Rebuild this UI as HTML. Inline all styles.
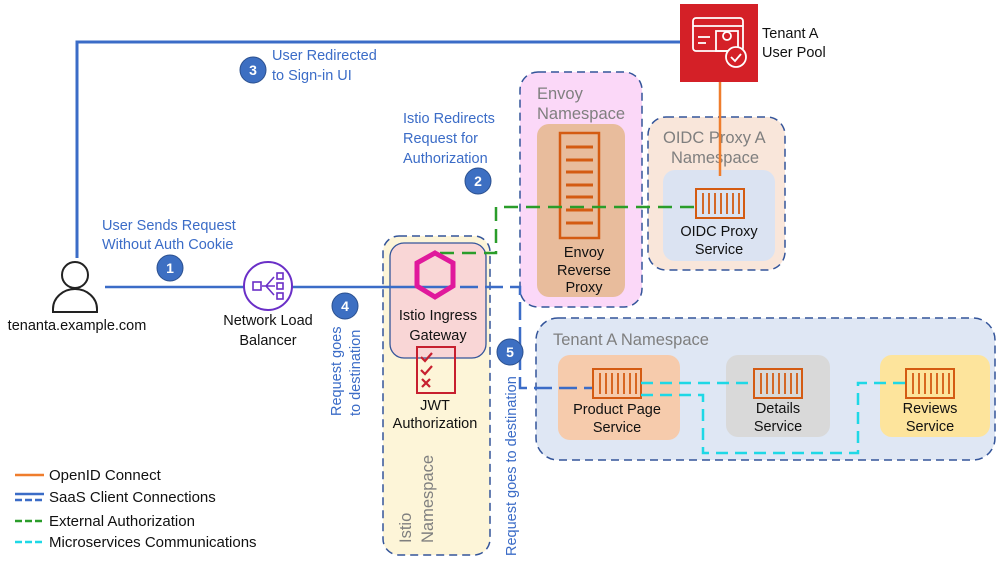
<!DOCTYPE html>
<html><head><meta charset="utf-8"><style>
html,body{margin:0;padding:0;background:#fff;}
svg{display:block;font-family:"Liberation Sans",sans-serif;}
.b{fill:#3b6cc7;font-size:14.5px;}
.k{fill:#111;font-size:14.5px;}
.g{fill:#7f7f7f;font-size:16.5px;}
</style></head><body>
<svg width="997" height="565" viewBox="0 0 997 565" xmlns="http://www.w3.org/2000/svg">
<!-- namespaces -->
<rect x="383" y="236" width="107" height="319" rx="16" fill="#fdf5d8" stroke="#34559a" stroke-width="1.5" stroke-dasharray="8,5"/>
<rect x="520" y="72" width="122" height="235" rx="18" fill="#fbd8f8" stroke="#34559a" stroke-width="1.5" stroke-dasharray="8,5"/>
<rect x="648" y="117" width="137" height="153" rx="18" fill="#f9e6da" stroke="#34559a" stroke-width="1.5" stroke-dasharray="8,5"/>
<rect x="536" y="318" width="459" height="142" rx="22" fill="#dfe7f4" stroke="#34559a" stroke-width="1.5" stroke-dasharray="8,5"/>
<text class="g" x="537" y="99">Envoy</text><text class="g" x="537" y="119">Namespace</text>
<text class="g" x="663" y="143">OIDC Proxy A</text><text class="g" x="671" y="163">Namespace</text>
<text class="g" x="553" y="345">Tenant A Namespace</text>
<text class="g" transform="translate(411,543) rotate(-90)">Istio</text>
<text class="g" transform="translate(433,543) rotate(-90)">Namespace</text>
<!-- inner boxes -->
<rect x="537" y="124" width="88" height="173" rx="12" fill="#e8bc9c"/>
<rect x="663" y="170" width="112" height="91" rx="12" fill="#dbe3f2"/>
<rect x="558" y="355" width="122" height="85" rx="12" fill="#f6cbac"/>
<rect x="726" y="355" width="104" height="82" rx="12" fill="#d9d9d9"/>
<rect x="880" y="355" width="110" height="82" rx="12" fill="#fde49c"/>
<rect x="390" y="243" width="96" height="115" rx="14" fill="#f9d6d6" stroke="#34559a" stroke-width="1.3"/>
<!-- envoy icon -->
<rect x="560" y="133" width="39" height="105" fill="none" stroke="#d45b12" stroke-width="2.5"/>
<g stroke="#d45b12" stroke-width="3"><line x1="566" y1="147" x2="593" y2="147"/><line x1="566" y1="160" x2="593" y2="160"/><line x1="566" y1="172" x2="593" y2="172"/><line x1="566" y1="185" x2="593" y2="185"/><line x1="566" y1="197" x2="593" y2="197"/><line x1="566" y1="210" x2="593" y2="210"/><line x1="566" y1="223" x2="593" y2="223"/></g>
<text class="k" x="584" y="257" text-anchor="middle">Envoy</text><text class="k" x="584" y="275" text-anchor="middle">Reverse</text><text class="k" x="584" y="292" text-anchor="middle">Proxy</text>
<!-- container icons -->
<g fill="none" stroke="#d45b12" stroke-width="2">
<rect x="696" y="189" width="48" height="29"/><rect x="593" y="369" width="48" height="29"/><rect x="754" y="369" width="48" height="29"/><rect x="906" y="369" width="48" height="29"/>
</g>
<g stroke="#d45b12" stroke-width="1.8">
<path d="M703 193v21M709 193v21M715 193v21M721 193v21M727 193v21M733 193v21M739 193v21"/>
<path d="M600 373v21M606 373v21M612 373v21M618 373v21M624 373v21M630 373v21M636 373v21"/>
<path d="M761 373v21M767 373v21M773 373v21M779 373v21M785 373v21M791 373v21M797 373v21"/>
<path d="M913 373v21M919 373v21M925 373v21M931 373v21M937 373v21M943 373v21M949 373v21"/>
</g>
<text class="k" x="719" y="236" text-anchor="middle">OIDC Proxy</text><text class="k" x="719" y="254" text-anchor="middle">Service</text>
<text class="k" x="617" y="414" text-anchor="middle">Product Page</text><text class="k" x="617" y="432" text-anchor="middle">Service</text>
<text class="k" x="778" y="413" text-anchor="middle">Details</text><text class="k" x="778" y="431" text-anchor="middle">Service</text>
<text class="k" x="930" y="413" text-anchor="middle">Reviews</text><text class="k" x="930" y="431" text-anchor="middle">Service</text>
<!-- connectors -->
<line x1="720" y1="82" x2="720" y2="176" stroke="#ef7d2d" stroke-width="2.5"/>
<polyline points="77,258 77,42 680,42" fill="none" stroke="#3b6cc7" stroke-width="3"/>
<line x1="105" y1="287" x2="244" y2="287" stroke="#3b6cc7" stroke-width="2.5"/>
<line x1="292" y1="287" x2="435" y2="287" stroke="#3b6cc7" stroke-width="2.5"/>
<polyline points="435,287 520,287 520,388 592,388" fill="none" stroke="#3b6cc7" stroke-width="2.5" stroke-dasharray="18,7"/>
<polyline points="440,253 496,253 496,207 696,207" fill="none" stroke="#2a9d2a" stroke-width="2.5" stroke-dasharray="14,8"/>
<polyline points="641,383 754,383" fill="none" stroke="#1ed8e6" stroke-width="2.5" stroke-dasharray="12,7"/>
<polyline points="641,395 703,395 703,453 858,453 858,383 906,383" fill="none" stroke="#1ed8e6" stroke-width="2.5" stroke-dasharray="12,7"/>
<!-- gateway -->
<polygon points="435,253 453,263 453,286 435,297 417,286 417,263" fill="none" stroke="#e0199c" stroke-width="5"/>
<text class="k" x="438" y="320" text-anchor="middle">Istio Ingress</text><text class="k" x="438" y="340" text-anchor="middle">Gateway</text>
<rect x="417" y="347" width="38" height="46" fill="none" stroke="#c7202f" stroke-width="2"/>
<g stroke="#c7202f" stroke-width="2.2" fill="none"><path d="M421 357l4 4 7-8M421 370l4 4 7-8M422 379l8 8M430 379l-8 8"/></g>
<text class="k" x="435" y="410" text-anchor="middle">JWT</text><text class="k" x="435" y="428" text-anchor="middle">Authorization</text>
<!-- cognito -->
<rect x="680" y="4" width="78" height="78" fill="#d42027"/>
<g stroke="#fff" stroke-width="1.8" fill="none"><rect x="693" y="18" width="50" height="33" rx="3"/><line x1="693" y1="26" x2="743" y2="26"/><line x1="698" y1="37" x2="710" y2="37"/><line x1="698" y1="43" x2="706" y2="43"/><rect x="716" y="31" width="22" height="20"/><circle cx="727" cy="36" r="4"/><circle cx="736" cy="57" r="10" fill="#d42027"/><path d="M731 57l4 4 6-7"/></g>
<text class="k" x="762" y="38">Tenant A</text><text class="k" x="762" y="57">User Pool</text>
<!-- person -->
<circle cx="75" cy="275" r="13" fill="none" stroke="#222" stroke-width="2"/>
<path d="M53 312v-3a22 20 0 0 1 44 0v3z" fill="none" stroke="#222" stroke-width="2"/>
<text class="k" x="77" y="330" text-anchor="middle" font-size="15">tenanta.example.com</text>
<!-- NLB -->
<circle cx="268" cy="286" r="24" fill="#fff" stroke="#6a2fc7" stroke-width="2"/>
<g stroke="#6a2fc7" stroke-width="1.6" fill="none"><rect x="253" y="282" width="8" height="8"/><rect x="277" y="273" width="6" height="6"/><rect x="277" y="283" width="6" height="6"/><rect x="277" y="293" width="6" height="6"/><path d="M262 286h13M266 286l8-9M266 286l8 9"/></g>
<text class="k" x="268" y="325" text-anchor="middle" font-size="15">Network Load</text><text class="k" x="268" y="345" text-anchor="middle" font-size="15">Balancer</text>
<!-- numbers -->
<g fill="#3d6fc2" stroke="#2b508f" stroke-width="1">
<circle cx="253" cy="70" r="13"/><circle cx="170" cy="268" r="13"/><circle cx="478" cy="181" r="13"/><circle cx="345" cy="306" r="13"/><circle cx="510" cy="352" r="13"/></g>
<g fill="#fff" font-size="14" font-weight="bold" text-anchor="middle">
<text x="253" y="75">3</text><text x="170" y="273">1</text><text x="478" y="186">2</text><text x="345" y="311">4</text><text x="510" y="357">5</text></g>
<!-- labels -->
<text class="b" x="272" y="60">User Redirected</text><text class="b" x="272" y="80">to Sign-in UI</text>
<text class="b" x="403" y="123">Istio Redirects</text><text class="b" x="403" y="143">Request for</text><text class="b" x="403" y="163">Authorization</text>
<text class="b" x="102" y="230">User Sends Request</text><text class="b" x="102" y="249">Without Auth Cookie</text>
<text class="b" transform="translate(341,416) rotate(-90)">Request goes</text>
<text class="b" transform="translate(360,416) rotate(-90)">to destination</text>
<text class="b" transform="translate(516,556) rotate(-90)">Request goes to destination</text>
<!-- legend -->
<line x1="15" y1="475" x2="44" y2="475" stroke="#ef7d2d" stroke-width="2.5"/>
<line x1="15" y1="494" x2="44" y2="494" stroke="#3b6cc7" stroke-width="2.5"/>
<line x1="15" y1="500" x2="44" y2="500" stroke="#3b6cc7" stroke-width="2.5" stroke-dasharray="7,3"/>
<line x1="15" y1="521" x2="44" y2="521" stroke="#2a9d2a" stroke-width="2.5" stroke-dasharray="7,3"/>
<line x1="15" y1="542" x2="44" y2="542" stroke="#1ed8e6" stroke-width="2.5" stroke-dasharray="7,3"/>
<g class="k" font-size="15"><text x="49" y="480" style="font-size:15px">OpenID Connect</text><text x="49" y="502" style="font-size:15px">SaaS Client Connections</text><text x="49" y="526" style="font-size:15px">External Authorization</text><text x="49" y="547" style="font-size:15px">Microservices Communications</text></g>
</svg>
</body></html>
